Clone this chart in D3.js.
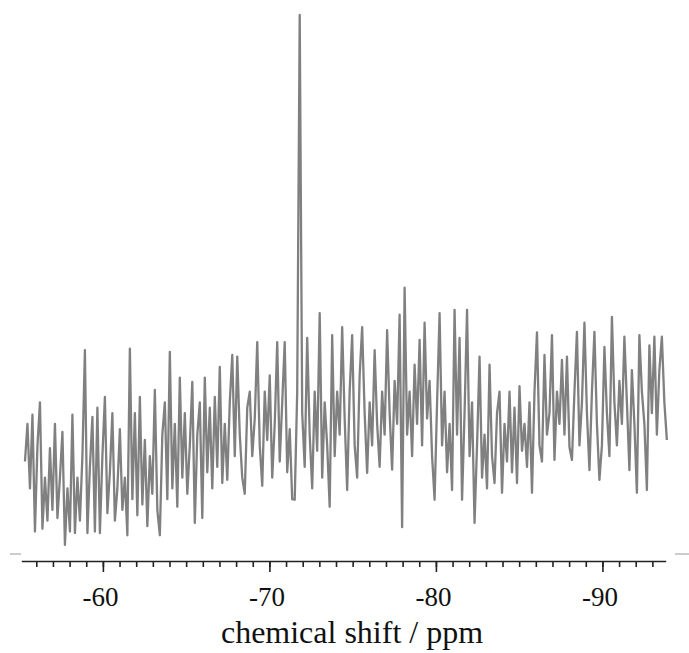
<!DOCTYPE html>
<html>
<head>
<meta charset="utf-8">
<script src="https://cdn.jsdelivr.net/npm/d3@7.9.0/dist/d3.min.js"></script>
<style>
  body { margin: 0; background: #fff; }
  svg { display: block; }
  .axis path, .axis line { stroke: #222; stroke-width: 1.6; }
</style>
</head>
<body>
<svg width="689" height="653"></svg>
<script>
// chemical shift grid (ppm) of the spectrum
const ppmStart = -55.32;
const ppmStep = -0.15;

// intensity, normalised so the sharp peak is 100
const intensity = [
  17, 24, 12, 25.7, 4, 20, 28, 4.5, 14, 6,
  19.5, 8, 24, 6.5, 14, 22.5, 1.5, 12, 4, 25.7,
  3.7, 14, 6, 18, 37.7, 3.7, 16, 25.3, 4, 27,
  3.7, 18, 29, 7.4, 15, 26, 6, 12, 23, 8,
  14, 3.3, 38, 10, 26, 7, 29, 9, 21, 5,
  18, 11, 30.3, 8, 3.3, 22, 28, 10, 37.4, 12,
  24, 8.6, 32.6, 14, 26, 11, 20, 31.8, 5.6, 22,
  28, 6.5, 32.6, 15, 27, 12, 29, 16, 34.6, 13,
  24, 13.6, 28, 36.8, 18, 36.5, 22, 14, 11, 27,
  30, 18, 25, 39.2, 20, 12.5, 30, 21, 33, 14,
  24, 39.2, 17, 28, 39.2, 15, 23, 10, 9.9, 30,
  100, 26, 16, 40, 22, 12, 30, 19, 44.6, 14,
  28, 20, 8.6, 40.5, 18, 30, 22, 42, 25, 11.7,
  30, 40.5, 20, 14, 33, 42, 26, 14.9, 28, 20,
  37.7, 24, 16, 30, 22, 41.4, 26, 15.5, 32, 24,
  44.3, 4.8, 49.3, 22, 30, 18, 35, 24, 39.6, 20,
  42.8, 25, 32, 18, 9.9, 28, 44.6, 20, 30, 15,
  24, 11.7, 45.2, 22, 40, 9.9, 26, 45.2, 18, 28,
  5.6, 20, 36.5, 14, 22, 12, 35, 18, 13, 26,
  30, 11.2, 24, 17, 30, 15, 27, 13, 31, 19,
  24, 16, 28, 11.2, 30, 41, 20, 17, 36.8, 22,
  26, 40.5, 17.3, 30, 24, 35.9, 22, 36.5, 19.7, 17.3,
  30, 41.1, 20, 28, 42.8, 26, 15.4, 30, 41.1, 24,
  13.6, 20, 38.3, 26, 18, 43.9, 28, 20, 32, 24,
  40.2, 28, 15.4, 34, 24, 11.2, 40.5, 30, 24, 11.7,
  38.6, 26, 40.2, 22, 34, 40.2, 28, 21
];

const minorTicks = d3.range(-56, -94, -1);
const majorTicks = [-60, -70, -80, -90];
const xLabel = 'chemical shift / ppm';

const serif = '"Liberation Serif", "Times New Roman", Times, serif';

let spectrum = intensity.map((v, i) => ({ ppm: ppmStart + i * ppmStep, value: v }));

let svg = d3.select('svg');
let axisY = 561;

let x = d3.scaleLinear().domain([-55.1, -93.8]).range([21.3, 665.7]);
let y = d3.scaleLinear().domain([0, 100]).range([553, 15]);

// faint frame stubs left and right of the plot
svg.append('line').attr('x1', 10).attr('x2', 21).attr('y1', 554).attr('y2', 554)
  .attr('stroke', '#aaa').attr('stroke-width', 1.2);
svg.append('line').attr('x1', 675).attr('x2', 689).attr('y1', 554).attr('y2', 554)
  .attr('stroke', '#aaa').attr('stroke-width', 1.2);

let line = d3.line()
  .x((d) => x(d.ppm))
  .y((d) => y(d.value));

svg.append('path')
  .datum(spectrum)
  .attr('d', line)
  .attr('fill', 'none')
  .attr('stroke', '#4a4a4a')
  .attr('stroke-opacity', 0.7)
  .attr('stroke-width', 2.3)
  .attr('stroke-linejoin', 'round');

let minorAxis = d3.axisBottom(x).tickValues(minorTicks).tickSize(6).tickSizeOuter(0).tickFormat('');
svg.append('g')
  .attr('class', 'axis')
  .attr('transform', `translate(0,${axisY})`)
  .call(minorAxis);

let majorAxis = d3.axisBottom(x).tickValues(majorTicks).tickSize(11).tickSizeOuter(0).tickFormat((d) => String(d));
let gMajor = svg.append('g')
  .attr('class', 'axis')
  .attr('transform', `translate(0,${axisY})`)
  .call(majorAxis);
gMajor.select('.domain').remove();
gMajor.selectAll('text')
  .attr('y', 45)
  .attr('dy', 0)
  .attr('dx', -3)
  .style('font-family', serif)
  .style('font-size', '27px')
  .style('fill', '#111');

svg.append('text')
  .attr('x', 352)
  .attr('y', 643)
  .attr('text-anchor', 'middle')
  .style('font-family', serif)
  .style('font-size', '32px')
  .style('fill', '#111')
  .text(xLabel);
</script>
</body>
</html>
